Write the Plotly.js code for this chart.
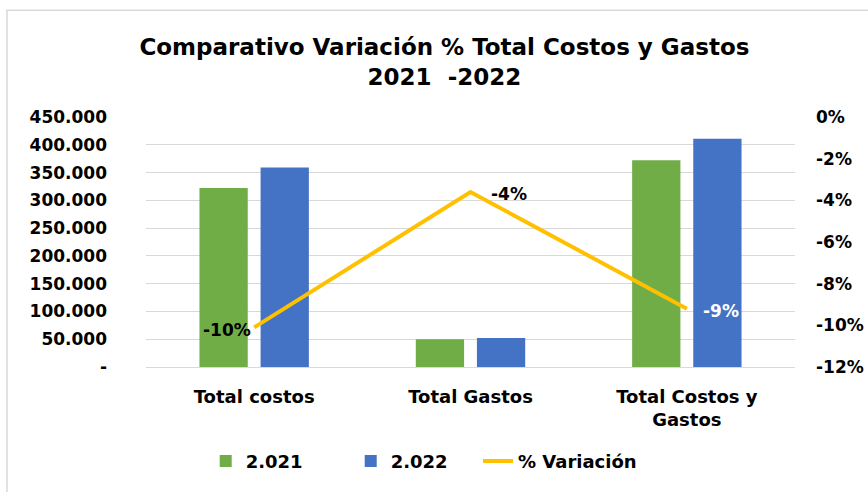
<!DOCTYPE html>
<html>
<head>
<meta charset="utf-8">
<script src="https://cdn.plot.ly/plotly-3.0.1.min.js"></script>
<style>html,body{margin:0;padding:0;background:#fff;}#chart{width:868px;height:492px;}</style>
</head>
<body>
<div id="chart"></div>
<script>
const categories = ["Total costos", "Total Gastos", "Total Costos y<br>Gastos"];
const values2021 = [322000, 50000, 372000];
const values2022 = [359000, 52200, 411000];
const variation = [-0.101, -0.036, -0.092];
const variationLabels = ["-10%", "-4%", "-9%"];
const leftTickVals = [0, 50000, 100000, 150000, 200000, 250000, 300000, 350000, 400000, 450000];
const leftTickText = ["-", "50.000", "100.000", "150.000", "200.000", "250.000", "300.000", "350.000", "400.000", "450.000"];
const rightTickVals = [-0.12, -0.10, -0.08, -0.06, -0.04, -0.02, 0];
const rightTickText = ["-12%", "-10%", "-8%", "-6%", "-4%", "-2%", "0%"];

const FONT = "DejaVu Sans";

const traces = [
  {type: "bar", name: "2.021", x: categories, y: values2021, marker: {color: "#70AD47"}, hoverinfo: "skip", legend: "legend"},
  {type: "bar", name: "2.022", x: categories, y: values2022, marker: {color: "#4472C4"}, hoverinfo: "skip", legend: "legend"},
  {type: "scatter", mode: "lines", name: "% Variación", x: categories, y: variation, yaxis: "y2",
   line: {color: "#FFC000", width: 4}, cliponaxis: false, hoverinfo: "skip", legend: "legend2"}
];

// label placement styles for the line's data labels
const labelStyle = [
  {xanchor: "right", xshift: -1, yshift: -3, color: "#000000"},
  {xanchor: "left", xshift: 18, yshift: -2, color: "#000000"},
  {xanchor: "left", xshift: 14, yshift: -2, color: "#FFFFFF"}
];
const annotations = variation.map((v, i) => ({
  x: categories[i], y: v, xref: "x", yref: "y2", text: variationLabels[i], showarrow: false,
  xanchor: labelStyle[i].xanchor, yanchor: "middle", xshift: labelStyle[i].xshift, yshift: labelStyle[i].yshift,
  font: {family: FONT, size: 17, color: labelStyle[i].color, weight: 700}
}));

const legendFont = {family: FONT, size: 18, color: "#000000", weight: 700};

const layout = {
  width: 868, height: 492,
  margin: {l: 146, r: 73, t: 117, b: 125, pad: 0},
  paper_bgcolor: "#ffffff", plot_bgcolor: "#ffffff",
  font: {family: FONT, size: 16, color: "#000000", weight: 700},
  title: {text: "Comparativo Variación % Total Costos y Gastos<br>2021  -2022",
          font: {family: FONT, size: 23, color: "#000000", weight: 700},
          x: 0.512, xanchor: "center", y: 0.888, yanchor: "middle"},
  barmode: "group", bargap: 0.435, bargroupgap: 0.21,
  showlegend: true,
  legend: {orientation: "h", x: 0.092, xanchor: "left", y: -0.377, yanchor: "middle",
           font: legendFont, traceorder: "normal",
           entrywidth: 100, entrywidthmode: "pixels", tracegroupgap: 0},
  legend2: {orientation: "h", x: 0.5116, xanchor: "left", y: -0.377, yanchor: "middle",
           font: legendFont, traceorder: "normal", tracegroupgap: 0},
  annotations: annotations,
  xaxis: {type: "category", showgrid: false, showline: false, zeroline: false, ticks: "",
          tickfont: {family: FONT, size: 18, weight: 700}, ticklabelstandoff: 17},
  yaxis: {range: [0, 450000], tickvals: leftTickVals, ticktext: leftTickText,
          showgrid: true, gridcolor: "#D9D9D9", gridwidth: 1, zeroline: true, zerolinecolor: "#D9D9D9",
          showline: false, ticks: "", tickfont: {family: FONT, size: 17, weight: 700}, ticklabelstandoff: 38},
  yaxis2: {overlaying: "y", side: "right", range: [-0.12, 0], tickvals: rightTickVals, ticktext: rightTickText,
           showgrid: false, zeroline: false, showline: false, ticks: "",
           tickfont: {family: FONT, size: 17, weight: 700}, ticklabelstandoff: 20},
  shapes: [{type: "rect", xref: "paper", yref: "paper", x0: -0.2142, x1: 1.12, y0: -0.52, y1: 1.4268,
            line: {color: "#D9D9D9", width: 1.5}, fillcolor: "rgba(0,0,0,0)", layer: "below"}]
};

Plotly.newPlot("chart", traces, layout, {staticPlot: true, displayModeBar: false});
</script>
</body>
</html>
